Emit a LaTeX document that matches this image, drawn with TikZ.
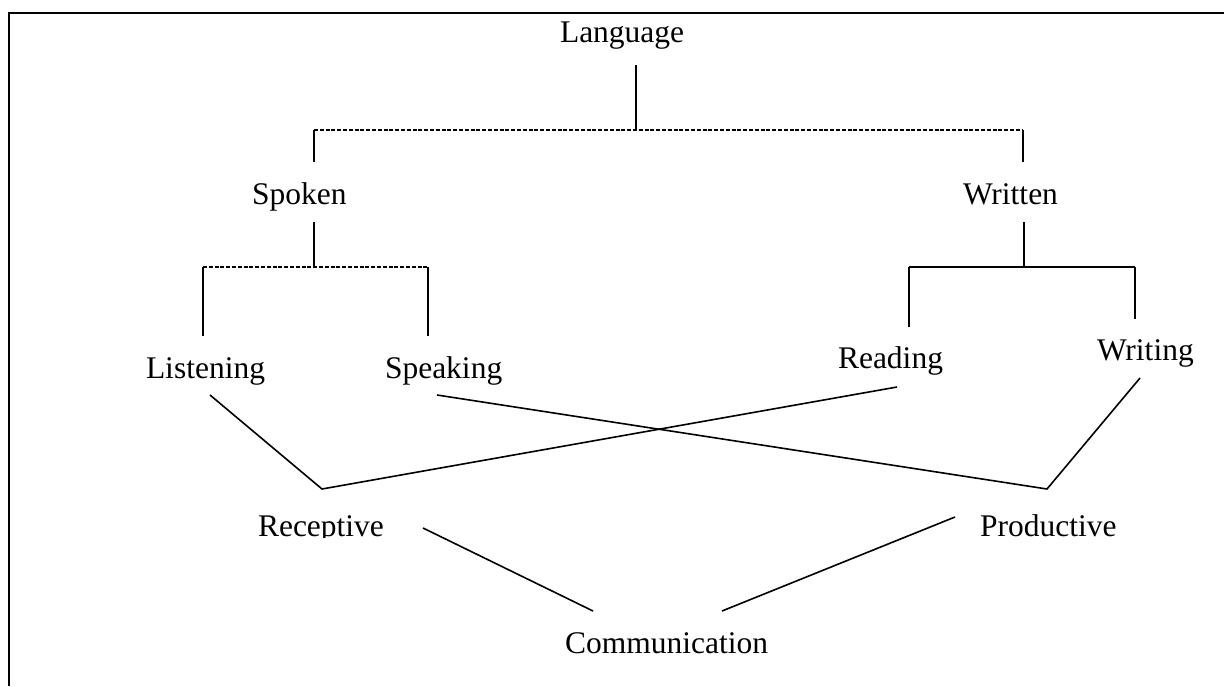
\documentclass[tikz,border=0pt]{standalone}
\usepackage{fontspec}
\setmainfont{Liberation Serif}
\begin{document}
\begin{tikzpicture}[x=0.5pt,y=-0.5pt,
  lbl/.style={anchor=base west,inner sep=0pt,outer sep=0pt,font=\fontsize{15.75}{18}\selectfont},
  conn/.style={line width=1pt},
  diag/.style={line width=0.8pt},
  dashconn/.style={line width=0.8pt,dash pattern=on 2pt off 0.9pt},
  framestyle/.style={line width=1.1pt}]
\useasboundingbox (0,0) rectangle (1224,686);
% frame (left and top edges visible)
\draw[framestyle] (9,686) -- (9,13) -- (1224,13);

% labels
\node[lbl] (language) at (560,42) {Language};
\node[lbl] (spoken) at (252,204) {Spoken};
\node[lbl] (written) at (963,204) {Written};
\node[lbl] (listening) at (146,378) {Listening};
\node[lbl] (speaking) at (385,378) {Speaking};
\node[lbl] (reading) at (838,368) {Reading};
\node[lbl] (writing) at (1097,360) {Writing};
\begin{scope}
  \clip (0,500) rectangle (1224,537);
  \node[lbl] (receptive) at (258,536) {Receptive};
  \node[lbl] (productive) at (980,536) {Productive};
\end{scope}
\node[lbl] (communication) at (565,653) {Communication};

% connector end points
\coordinate (langB) at (636,65);
\coordinate (j0) at (636,130);
\coordinate (j0L) at (314,130);
\coordinate (j0R) at (1023,130);
\coordinate (spT) at (314,162);
\coordinate (wrT) at (1023,162);
\coordinate (spB) at (314,222);
\coordinate (j1) at (314,267);
\coordinate (j1L) at (203,267);
\coordinate (j1R) at (428,267);
\coordinate (liT) at (203,336);
\coordinate (skT) at (428,336);
\coordinate (wrB) at (1024,222);
\coordinate (j2) at (1024,267);
\coordinate (j2L) at (909,267);
\coordinate (j2R) at (1135,267);
\coordinate (rdT) at (909,327);
\coordinate (wtT) at (1135,319);
\coordinate (liB) at (210,395);
\coordinate (recT) at (322,489);
\coordinate (rdB) at (897,387);
\coordinate (skB) at (437,395);
\coordinate (proT) at (1047,489);
\coordinate (wtB) at (1140,378);
\coordinate (recR) at (423,528);
\coordinate (comL) at (593,611);
\coordinate (proL) at (955,517);
\coordinate (comR) at (722,611);

% Language -> Spoken / Written
\draw[conn] (langB) -- (j0);
\draw[dashconn] (j0L) -- (j0R);
\draw[conn] (j0L) -- (spT);
\draw[conn] (j0R) -- (wrT);

% Spoken -> Listening / Speaking
\draw[conn] (spB) -- (j1);
\draw[dashconn] (j1L) -- (j1R);
\draw[conn] (j1L) -- (liT);
\draw[conn] (j1R) -- (skT);

% Written -> Reading / Writing
\draw[conn] (wrB) -- (j2);
\draw[conn] (j2L) -- (j2R);
\draw[conn] (j2L) -- (rdT);
\draw[conn] (j2R) -- (wtT);

% skills -> Receptive / Productive
\draw[diag] (liB) -- (recT) -- (rdB);
\draw[diag] (skB) -- (proT) -- (wtB);

% -> Communication
\draw[diag] (recR) -- (comL);
\draw[diag] (proL) -- (comR);
\end{tikzpicture}
\end{document}
